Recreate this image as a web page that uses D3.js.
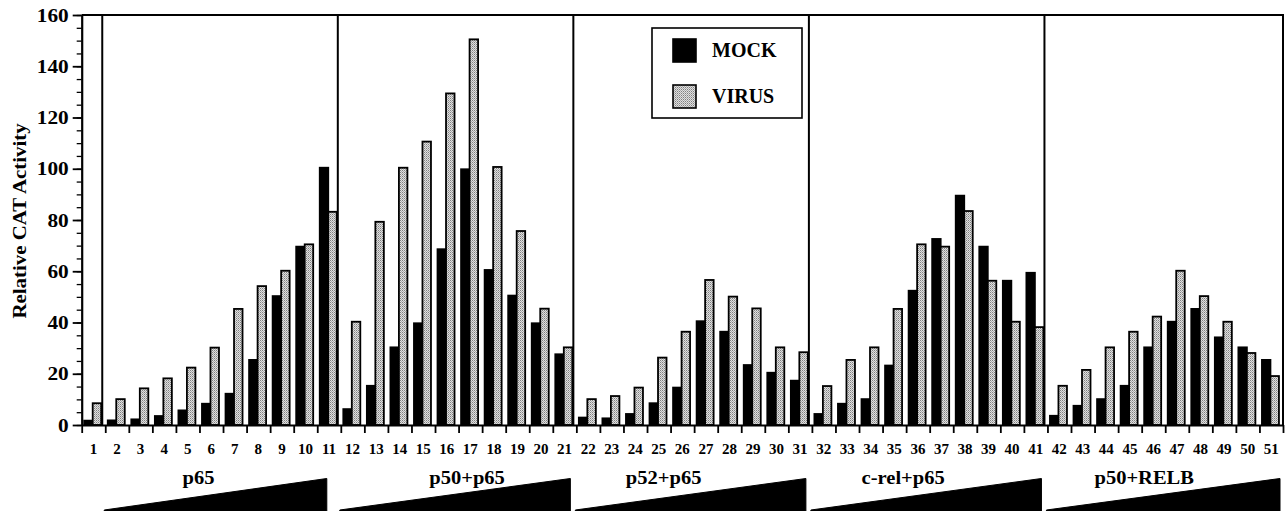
<!DOCTYPE html>
<html>
<head>
<meta charset="utf-8">
<script src="https://cdn.jsdelivr.net/npm/d3@7"></script>
<style>
  html, body { margin: 0; padding: 0; background: #fff; }
  svg text { font-family: "Liberation Serif", "Times New Roman", Times, serif; font-weight: bold; fill: #000; }
</style>
</head>
<body>
<div id="chart"></div>
<script>
'use strict';

// lane numbers along the x axis
var categories = ['1','2','3','4','5','6','7','8','9','10','11','12','13','14','15','16','17',
  '18','19','20','21','22','23','24','25','26','27','28','29','30','31','32','33','34',
  '35','36','37','38','39','40','41','42','43','44','45','46','47','48','49','50','51'];

var series = ['MOCK', 'VIRUS'];

var mock = [1.7, 1.8, 2.2, 3.5, 5.7, 8.3, 12.2, 25.4, 50.3, 69.6, 100.4,
  6.2, 15.3, 30.3, 39.7, 68.6, 99.8, 60.5, 50.5, 39.7, 27.6,
  2.9, 2.6, 4.3, 8.5, 14.6, 40.5, 36.4, 23.4, 20.4, 17.3,
  4.3, 8.3, 10.1, 23.2, 52.4, 72.6, 89.5, 69.6, 56.3, 59.4,
  3.6, 7.5, 10.1, 15.3, 30.3, 40.3, 45.3, 34.2, 30.3, 25.4];

var virus = [8.5, 10.1, 14.3, 18.2, 22.4, 30.2, 45.3, 54.2, 60.2, 70.5, 83.2,
  40.3, 79.3, 100.4, 110.6, 129.4, 150.5, 100.7, 75.7, 45.4, 30.3,
  10.1, 11.3, 14.6, 26.3, 36.4, 56.6, 50.1, 45.5, 30.3, 28.4,
  15.2, 25.4, 30.3, 45.3, 70.5, 69.6, 83.5, 56.3, 40.3, 38.2,
  15.3, 21.5, 30.3, 36.4, 42.3, 60.2, 50.3, 40.3, 28.1, 19.1];

var yTicks = [0, 20, 40, 60, 80, 100, 120, 140, 160];

var groups = ['p65', 'p50+p65', 'p52+p65', 'c-rel+p65', 'p50+RELB'];
// each group begins after this lane (a divider is drawn there)
var groupAfter = ['1', '11', '21', '31', '41'];

// layout
var W = 1285, H = 511;
var plotL = 81.7, plotR = 1283, plotT = 15, plotB = 425;
var labelDx = [-17, 12, -27, -23, -19];
var wedgeInset = [11, 3, 3, 3, 3];

var svg = d3.select('#chart').append('svg')
    .attr('width', W)
    .attr('height', H);

var defs = svg.append('defs');
var pat = defs.append('pattern')
    .attr('id', 'stipple')
    .attr('patternUnits', 'userSpaceOnUse')
    .attr('width', 2)
    .attr('height', 2);
pat.append('rect').attr('width', 2).attr('height', 2).attr('fill', '#e0e0e0');
pat.append('rect').attr('width', 1).attr('height', 1).attr('fill', '#808080');
pat.append('rect').attr('x', 1).attr('y', 1).attr('width', 1).attr('height', 1).attr('fill', '#aaaaaa');

var fills = {MOCK: '#000', VIRUS: 'url(#stipple)'};

var x = d3.scaleBand()
    .domain(categories)
    .range([plotL, plotR]);

var xs = d3.scaleBand()
    .domain(series)
    .range([2.5, 19.5]);

var xi = d3.scaleLinear()
    .domain([0, categories.length])
    .range([plotL, plotR]);

var y = d3.scaleLinear()
    .domain([0, 160])
    .range([plotB, plotT]);

// stretch text a bit wider, the original type is wide
function widen(sel, k) {
  sel.each(function() {
    var w = this.getComputedTextLength();
    d3.select(this).attr('textLength', w * k).attr('lengthAdjust', 'spacingAndGlyphs');
  });
}

// bars
var values = {MOCK: mock, VIRUS: virus};
var barData = [];
categories.forEach(function(c, i) {
  series.forEach(function(s) {
    barData.push({cat: c, s: s, v: values[s][i]});
  });
});

svg.append('g').selectAll('rect')
    .data(barData)
    .enter().append('rect')
    .attr('x', function(d) { return x(d.cat) + xs(d.s); })
    .attr('y', function(d) { return y(d.v); })
    .attr('width', xs.bandwidth())
    .attr('height', function(d) { return plotB - y(d.v); })
    .style('fill', function(d) { return fills[d.s]; })
    .style('stroke', '#000')
    .style('stroke-width', 1.8);

// dividers between groups
function dividerX(c) { return x(c) + x.bandwidth() - 3; }

svg.append('g').selectAll('line')
    .data(groupAfter)
    .enter().append('line')
    .attr('x1', dividerX)
    .attr('x2', dividerX)
    .attr('y1', plotT)
    .attr('y2', plotB)
    .style('stroke', '#000')
    .style('stroke-width', 2);

// frame top and right
svg.append('path')
    .attr('d', 'M' + plotL + ',' + plotT + 'H' + plotR + 'V' + plotB)
    .style('fill', 'none')
    .style('stroke', '#000')
    .style('stroke-width', 2);

// y axis, minor ticks every 5
var yMinor = svg.append('g')
    .attr('transform', 'translate(' + plotL + ',0)')
    .call(d3.axisLeft(y).tickValues(d3.range(0, 161, 5)).tickSize(5).tickFormat(''));
yMinor.select('.domain').remove();
yMinor.selectAll('line').style('stroke-width', 1.3);

var yAxis = svg.append('g')
    .attr('transform', 'translate(' + plotL + ',0)')
    .call(d3.axisLeft(y).tickValues(yTicks).tickSize(9).tickSizeOuter(0).tickPadding(4));
yAxis.attr('font-family', null).attr('font-size', null);
yAxis.select('.domain').style('stroke-width', 2.2);
yAxis.selectAll('line').style('stroke-width', 1.8);
yAxis.selectAll('text')
    .style('font-size', '19px')
    .call(widen, 1.12);

// x axis, ticks on lane boundaries
var xTickAxis = svg.append('g')
    .attr('transform', 'translate(0,' + plotB + ')')
    .call(d3.axisBottom(xi).tickValues(d3.range(0, categories.length + 1)).tickSize(8).tickFormat('').tickSizeOuter(0));
xTickAxis.select('.domain').style('stroke-width', 2.2);
xTickAxis.selectAll('line').style('stroke-width', 1.8);

var xAxis = svg.append('g')
    .attr('transform', 'translate(0,' + plotB + ')')
    .call(d3.axisBottom(x).tickSize(0));
xAxis.select('.domain').remove();
xAxis.attr('font-family', null).attr('font-size', null);
xAxis.selectAll('text')
    .attr('y', 28.5)
    .attr('dy', 0)
    .style('font-size', '15px');

// y title
svg.append('text')
    .attr('transform', 'translate(26,221) rotate(-90)')
    .attr('text-anchor', 'middle')
    .style('font-size', '18px')
    .text('Relative CAT Activity')
    .call(widen, 1.16);

// group wedges and names
groups.forEach(function(g, i) {
  var x0 = dividerX(groupAfter[i]) + 2;
  var x1 = (i < groups.length - 1 ? dividerX(groupAfter[i + 1]) : plotR) - wedgeInset[i];
  svg.append('path')
      .attr('d', 'M' + x0 + ',510L' + x1 + ',478.5L' + x1 + ',513L' + x0 + ',513Z')
      .style('fill', '#000')
      .style('stroke', '#000')
      .style('stroke-width', 1);
  svg.append('text')
      .attr('x', (x0 + x1) / 2 + labelDx[i])
      .attr('y', 484)
      .attr('text-anchor', 'middle')
      .style('font-size', '19px')
      .text(g)
      .call(widen, 1.08);
});

// legend
var legend = svg.append('g');
legend.append('rect')
    .attr('x', 652)
    .attr('y', 28)
    .attr('width', 150)
    .attr('height', 90)
    .style('fill', '#fff')
    .style('stroke', '#000')
    .style('stroke-width', 1.6);
var item = legend.selectAll('g')
    .data(series)
    .enter().append('g')
    .attr('transform', function(d, i) { return 'translate(673,' + (39 + i * 46) + ')'; });
item.append('rect')
    .attr('width', 23)
    .attr('height', 23)
    .style('fill', function(d) { return fills[d]; })
    .style('stroke', '#000')
    .style('stroke-width', 1.6);
item.append('text')
    .attr('x', 39)
    .attr('y', 18)
    .style('font-size', '20px')
    .text(function(d) { return d; });
</script>
</body>
</html>
